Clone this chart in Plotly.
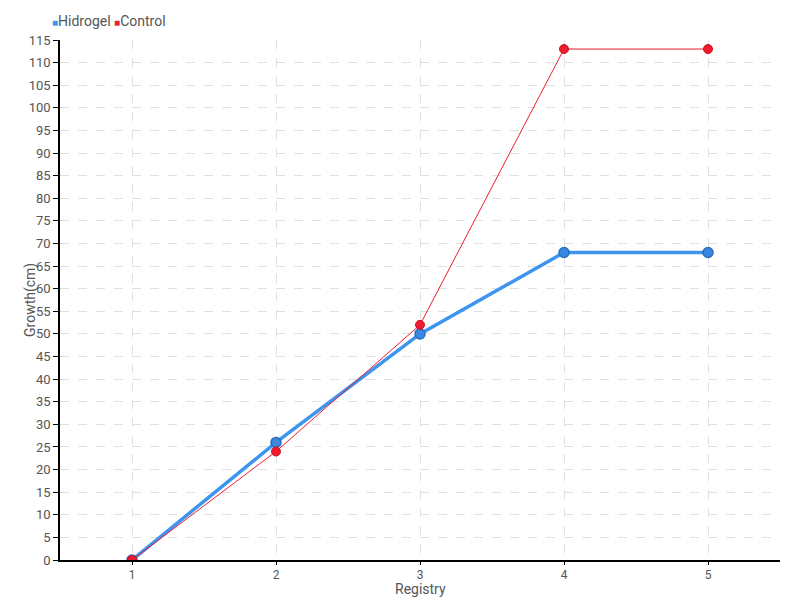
import plotly.graph_objects as go

registry = [1, 2, 3, 4, 5]
hidrogel = [0, 26, 50, 68, 68]
control = [0, 24, 52, 113, 113]
y_ticks = list(range(0, 116, 5))

FONT = "Roboto, sans-serif"
BLUE = "#3d95f0"
RED = "#ee1c2e"
TXT = "#555555"

fig = go.Figure()
fig.add_trace(go.Scatter(
    x=registry, y=hidrogel, mode="lines+markers", name="Hidrogel",
    line=dict(color=BLUE, width=3.5),
    marker=dict(size=10, color="#3a88e0", line=dict(color="#2a6fc0", width=1.5)),
    showlegend=False,
))
fig.add_trace(go.Scatter(
    x=registry, y=control, mode="lines+markers", name="Control",
    line=dict(color=RED, width=1),
    marker=dict(size=9, color=RED, line=dict(color="#d01020", width=1)),
    showlegend=False,
))

fig.update_layout(
    width=800, height=600,
    margin=dict(l=52, r=28, t=32, b=48, autoexpand=False),
    paper_bgcolor="white", plot_bgcolor="white",
    font=dict(family=FONT, size=13, color=TXT),
    showlegend=False,
)
fig.add_annotation(
    xref="paper", yref="paper", x=-0.014, y=1.0, xanchor="left", yanchor="bottom",
    yshift=9, showarrow=False,
    text=f'<span style="color:{BLUE};font-size:10px">■</span>Hidrogel '
         f'<span style="color:{RED};font-size:10px">■</span>Control',
    font=dict(family=FONT, size=14, color=TXT),
)
fig.add_annotation(
    xref="paper", yref="paper", x=0.5, y=-0.036, xanchor="center", yanchor="top",
    showarrow=False, text="Registry", font=dict(family=FONT, size=14, color=TXT),
)
fig.add_annotation(
    xref="paper", yref="paper", x=-0.0417, y=0.5, xanchor="center", yanchor="middle",
    showarrow=False, text="Growth(cm)", textangle=-90,
    font=dict(family=FONT, size=14, color=TXT),
)
fig.update_xaxes(
    range=[0.5, 5.5], tickvals=registry, ticktext=[str(v) for v in registry],
    showline=True, linecolor="black", linewidth=1.5,
    ticks="outside", ticklen=3, tickcolor="black",
    tickfont=dict(size=12),
    showgrid=True, gridcolor="#e0e0e0", griddash="dash",
    zeroline=False, automargin=False,
)
fig.update_yaxes(
    range=[0, 115], tickvals=y_ticks, ticktext=[str(v) for v in y_ticks],
    showline=True, linecolor="black", linewidth=1.5,
    ticks="outside", ticklen=5, tickcolor="black",
    showgrid=True, gridcolor="#e0e0e0", griddash="dash",
    zeroline=False, automargin=False,
)

fig.write_html("out.html")
